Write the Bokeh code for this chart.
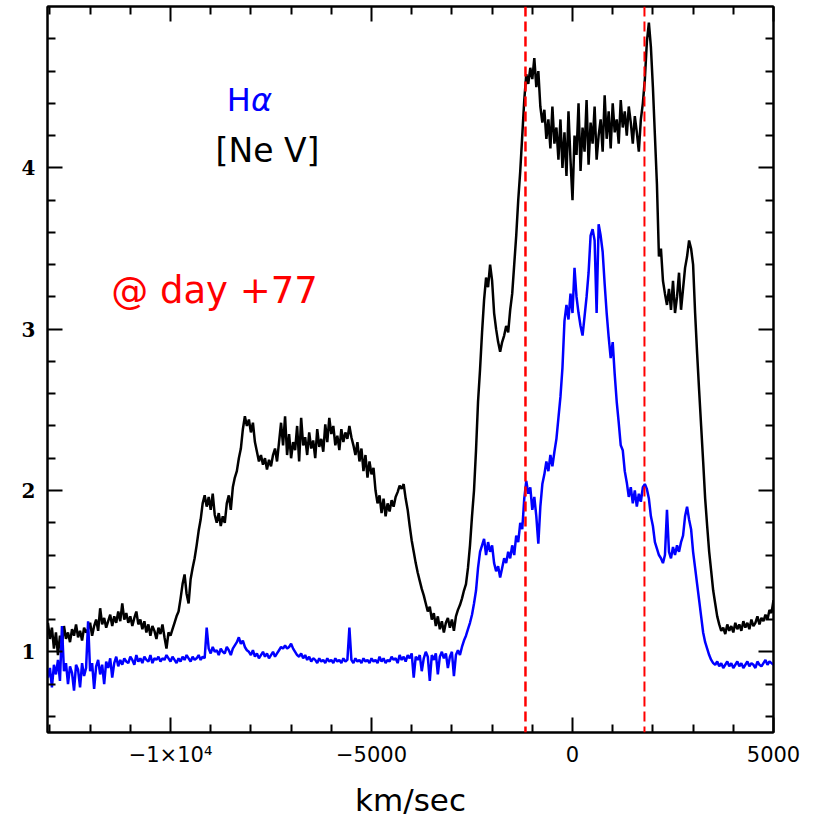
from bokeh.plotting import figure
from bokeh.models import Range1d, LinearAxis, Span, Label, FixedTicker
from bokeh.embed import file_html
from bokeh.resources import INLINE

# velocity grid (km/s)
VEL_START = -13050
VEL_STEP = 50

ne_v = [
    1.18,1.08,1.15,1.02,1.12,0.98,1.10,1.05,1.16,1.08,1.12,1.06,1.14,1.10,1.17,1.09,1.13,1.07,1.15,1.12,
    1.14,1.18,1.10,1.16,1.20,1.13,1.27,1.17,1.21,1.15,1.19,1.23,1.16,1.22,1.18,1.25,1.19,1.30,1.20,1.24,
    1.18,1.22,1.16,1.21,1.25,1.17,1.20,1.14,1.19,1.12,1.17,1.10,1.16,1.13,1.08,1.15,1.11,1.17,1.09,1.02,
    1.12,1.10,1.14,1.18,1.22,1.25,1.33,1.42,1.48,1.36,1.30,1.45,1.52,1.58,1.66,1.75,1.82,1.92,1.97,1.90,
    1.96,1.88,1.98,1.85,1.80,1.86,1.78,1.84,1.80,1.92,1.97,1.88,2.02,2.08,2.12,2.20,2.26,2.38,2.46,2.40,
    2.44,2.36,2.42,2.30,2.24,2.18,2.22,2.16,2.20,2.13,2.19,2.15,2.22,2.26,2.18,2.30,2.42,2.28,2.46,2.22,
    2.35,2.20,2.30,2.25,2.40,2.18,2.45,2.28,2.33,2.22,2.36,2.26,2.31,2.20,2.38,2.27,2.32,2.24,2.41,2.30,
    2.45,2.35,2.40,2.28,2.34,2.25,2.38,2.30,2.36,2.32,2.40,2.33,2.28,2.22,2.30,2.18,2.26,2.12,2.22,2.08,
    2.18,2.10,2.14,2.00,1.92,1.97,1.86,1.95,1.84,1.92,1.87,1.94,1.90,1.96,1.99,2.03,2.01,2.04,1.95,1.88,
    1.78,1.69,1.62,1.55,1.49,1.44,1.39,1.35,1.30,1.25,1.28,1.20,1.24,1.16,1.22,1.14,1.19,1.12,1.18,1.21,
    1.15,1.20,1.13,1.22,1.26,1.29,1.33,1.38,1.42,1.52,1.66,1.84,2.00,2.25,2.55,2.75,2.98,3.18,3.32,3.26,
    3.40,3.30,3.10,3.00,2.92,2.86,2.92,2.96,3.02,2.98,3.12,3.22,3.40,3.58,3.80,3.98,4.20,4.42,4.58,4.52,
    4.62,4.55,4.68,4.50,4.60,4.38,4.28,4.36,4.18,4.30,4.12,4.38,4.15,4.25,4.05,4.30,4.00,4.22,3.95,4.35,
    4.05,3.80,4.20,4.08,4.40,3.98,4.25,4.10,4.42,4.02,4.28,4.15,4.38,4.05,4.20,4.30,4.10,4.45,4.18,4.35,
    4.12,4.40,4.22,4.30,4.15,4.42,4.25,4.35,4.20,4.38,4.28,4.15,4.32,4.22,4.10,4.30,4.40,4.55,4.78,4.90,
    4.75,4.50,4.20,3.90,3.45,3.50,3.30,3.22,3.15,3.25,3.12,3.30,3.10,3.20,3.35,3.12,3.25,3.38,3.45,3.55,
    3.50,3.40,3.10,2.85,2.62,2.40,2.18,1.95,1.78,1.62,1.50,1.38,1.30,1.22,1.17,1.13,1.15,1.11,1.17,1.13,
    1.16,1.12,1.18,1.14,1.17,1.13,1.19,1.15,1.18,1.14,1.20,1.16,1.18,1.22,1.17,1.21,1.19,1.23,1.20,1.26,1.24,1.32,
]

h_alpha = [
    0.84,0.90,0.78,0.92,0.86,0.95,0.82,1.16,0.88,0.93,0.80,0.91,0.87,0.76,0.92,0.89,0.78,0.93,0.85,0.90,
    1.19,0.88,0.93,0.77,0.91,0.95,0.86,0.92,0.80,0.94,0.90,0.96,0.84,0.93,0.97,0.91,0.95,0.92,0.96,0.94,
    0.93,0.97,0.95,0.92,0.98,0.94,0.96,0.93,0.97,0.95,0.94,0.98,0.93,0.96,0.95,0.97,0.94,0.96,0.95,0.98,
    0.96,0.94,0.97,0.95,0.93,0.96,0.94,0.97,0.95,0.98,0.96,0.94,0.97,0.95,0.96,0.98,0.95,0.97,0.96,1.15,
    1.02,0.99,1.03,1.00,1.01,0.98,1.02,1.00,0.99,1.03,1.01,0.98,1.02,1.04,1.06,1.09,1.05,1.07,1.03,1.01,
    1.00,0.98,1.01,0.97,0.99,0.96,0.98,1.00,0.97,0.99,0.96,0.98,1.00,0.97,0.99,1.01,1.03,1.02,1.04,1.02,
    1.03,1.05,1.02,1.00,0.98,0.97,0.99,0.96,0.98,0.95,0.97,0.94,0.96,0.95,0.93,0.96,0.94,0.95,0.93,0.96,
    0.94,0.95,0.93,0.96,0.94,0.95,0.93,0.96,0.94,0.95,1.15,0.95,0.93,0.96,0.94,0.95,0.93,0.96,0.94,0.95,
    0.93,0.96,0.94,0.95,0.93,0.97,0.94,0.96,0.93,0.95,0.94,0.97,0.95,0.96,0.93,0.98,0.95,0.97,0.94,0.98,
    0.96,0.99,0.84,0.97,0.95,0.98,0.88,0.96,1.00,0.97,0.82,0.98,0.95,0.99,0.86,0.97,1.00,0.96,0.99,0.90,
    0.97,1.00,0.85,0.98,1.01,0.98,1.03,1.07,1.10,1.14,1.18,1.23,1.30,1.38,1.52,1.62,1.66,1.70,1.60,1.68,
    1.62,1.66,1.55,1.50,1.53,1.46,1.52,1.58,1.55,1.62,1.58,1.66,1.60,1.72,1.68,1.80,1.76,1.95,2.06,1.98,
    2.02,1.88,1.96,1.84,1.67,1.90,2.04,2.10,2.18,2.12,2.22,2.15,2.24,2.32,2.45,2.58,2.76,3.05,3.15,3.06,
    3.22,3.10,3.38,3.20,3.10,3.02,2.96,3.08,3.20,3.35,3.58,3.62,3.55,3.10,3.65,3.58,3.48,3.28,3.10,2.95,
    2.82,2.92,2.72,2.55,2.42,2.28,2.25,2.12,2.05,1.96,2.02,1.92,2.00,1.90,1.98,1.93,2.02,2.04,2.01,1.95,
    1.84,1.78,1.68,1.64,1.60,1.58,1.55,1.60,1.88,1.62,1.58,1.65,1.60,1.66,1.62,1.68,1.72,1.84,1.90,1.82,
    1.76,1.62,1.52,1.42,1.32,1.22,1.12,1.06,1.02,0.98,0.95,0.93,0.92,0.94,0.91,0.93,0.90,0.92,0.94,0.91,
    0.93,0.90,0.92,0.94,0.91,0.93,0.90,0.92,0.94,0.91,0.93,0.92,0.90,0.94,0.92,0.91,0.93,0.95,0.92,0.94,0.93,0.92,
]

velocity = [VEL_START + VEL_STEP * i for i in range(len(ne_v))]

marker_velocities = [-1170, 1790]
marker_widths = [2.5, 2]

x_tick_values = [-10000, -5000, 0, 5000]
x_tick_labels = ["\u22121\u00d710\u2074", "\u22125000", "0", "5000"]
x_minor_values = [-13000, -12000, -11000, -9000, -8000, -7000, -6000, -4000,
                  -3000, -2000, -1000, 1000, 2000, 3000, 4000]
y_tick_values = [1, 2, 3, 4]
y_minor_values = [0.6, 0.8, 1.2, 1.4, 1.6, 1.8, 2.2, 2.4, 2.6, 2.8,
                  3.2, 3.4, 3.6, 3.8, 4.2, 4.4, 4.6, 4.8]

p = figure(width=827, height=824, output_backend="svg", toolbar_location=None,
           x_range=Range1d(-13060, 5000), y_range=Range1d(0.5, 5.0),
           min_border_left=47, min_border_right=54, min_border_top=6, min_border_bottom=92)
p.background_fill_color = "white"
p.border_fill_color = "white"
p.outline_line_color = "black"
p.outline_line_width = 2
p.xgrid.visible = False
p.ygrid.visible = False

p.line(velocity, ne_v, color="black", line_width=2.5)
p.line(velocity, h_alpha, color="#0000ff", line_width=2.5)

for v, w in zip(marker_velocities, marker_widths):
    p.add_layout(Span(location=v, dimension="height", line_color="#ff0000",
                      line_dash="10 5", line_width=w))


def style_axis(ax):
    ax.axis_line_width = 2
    ax.major_tick_line_width = 2
    ax.minor_tick_line_width = 2
    ax.major_tick_in = 15
    ax.major_tick_out = 0
    ax.minor_tick_in = 8
    ax.minor_tick_out = 0
    ax.axis_line_color = "black"
    ax.major_tick_line_color = "black"
    ax.minor_tick_line_color = "black"


p.xaxis.ticker = FixedTicker(ticks=x_tick_values, minor_ticks=x_minor_values)
p.yaxis.ticker = FixedTicker(ticks=y_tick_values, minor_ticks=y_minor_values)
p.xaxis.major_label_overrides = dict(zip(x_tick_values, x_tick_labels))
p.xaxis.major_label_text_font = "DejaVu Sans"
p.xaxis.major_label_text_font_size = "21px"
p.xaxis.major_label_text_color = "black"
p.xaxis.major_label_standoff = 10
p.yaxis.major_label_text_font = "DejaVu Serif"
p.yaxis.major_label_text_font_size = "20px"
p.yaxis.major_label_text_font_style = "bold"
p.yaxis.major_label_text_color = "black"
p.yaxis.major_label_standoff = 12
p.yaxis.major_label_orientation = "horizontal"
p.xaxis.axis_label = "km/sec"
p.xaxis.axis_label_text_font = "DejaVu Sans"
p.xaxis.axis_label_text_font_size = "31px"
p.xaxis.axis_label_text_font_style = "normal"
p.xaxis.axis_label_text_color = "black"
p.xaxis.axis_label_standoff = 12
for ax in p.xaxis + p.yaxis:
    style_axis(ax)

top = LinearAxis(ticker=FixedTicker(ticks=x_tick_values, minor_ticks=x_minor_values),
                 major_label_overrides={t: "" for t in x_tick_values},
                 major_label_standoff=0)
right = LinearAxis(ticker=FixedTicker(ticks=y_tick_values, minor_ticks=y_minor_values),
                   major_label_overrides={t: "" for t in y_tick_values},
                   major_label_standoff=0)
style_axis(top)
style_axis(right)
p.add_layout(top, "above")
p.add_layout(right, "right")

p.add_layout(Label(x=-8000, y=4.42, text="H", text_color="#0000ff",
                   text_font="DejaVu Sans", text_font_size="32px",
                   text_align="right", text_baseline="middle"))
p.add_layout(Label(x=-8000, y=4.42, text="\u03b1", text_color="#0000ff",
                   text_font="DejaVu Sans", text_font_size="32px", text_font_style="italic",
                   text_align="left", text_baseline="middle"))
p.add_layout(Label(x=-7587, y=4.11, text="[Ne V]", text_color="black",
                   text_font="DejaVu Sans", text_font_size="33px",
                   text_align="center", text_baseline="middle"))
p.add_layout(Label(x=-8906, y=3.24, text="@ day +77", text_color="#ff0000",
                   text_font="DejaVu Sans", text_font_size="37px",
                   text_align="center", text_baseline="middle"))

open("out.html", "w").write(file_html(p, INLINE))
